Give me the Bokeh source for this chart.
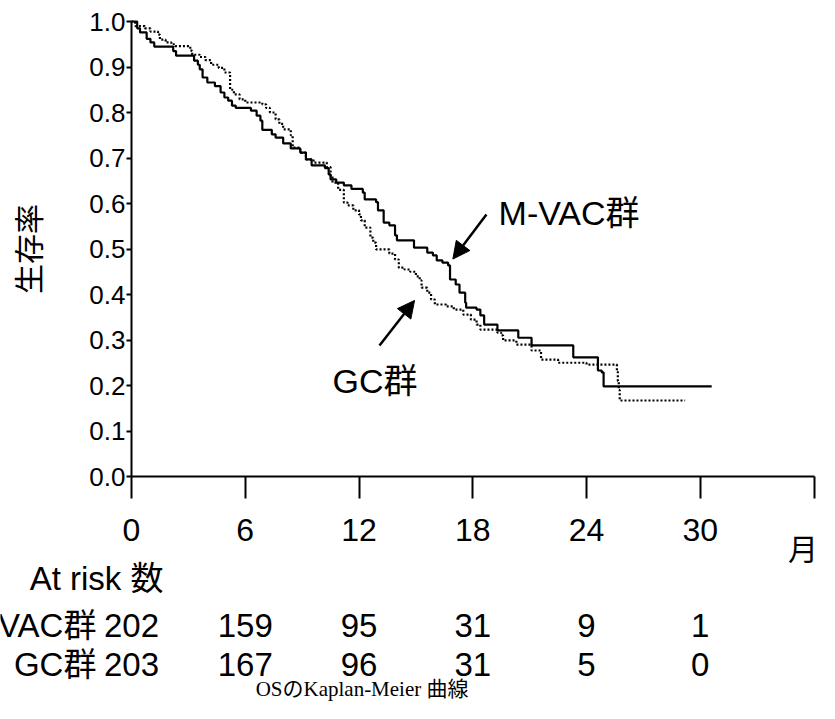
from bokeh.plotting import figure
from bokeh.models import (Range1d, FixedTicker, Label, LabelSet, ColumnDataSource,
                          Arrow, NormalHead, PrintfTickFormatter)
from bokeh.core.properties import value
from bokeh.embed import file_html
from bokeh.resources import INLINE

# ---- data ----
mvac_t = [0, 0.3, 0.45, 0.8, 1.0, 1.2, 2.2, 2.35, 3.3, 3.5, 3.6, 3.75, 4.0, 4.4, 4.7, 4.9,
          5.1, 5.3, 5.5, 6.3, 6.6, 6.8, 6.9, 7.4, 7.6, 8.0, 8.4, 8.9, 9.2, 9.5, 10.2, 10.4,
          10.5, 10.8, 11.2, 11.6, 12.2, 12.3, 12.9, 13.0, 13.3, 13.6, 13.9, 14.0, 14.9,
          15.6, 15.9, 16.1, 16.4, 16.7, 16.8, 17.1, 17.3, 17.6, 17.65, 18.2, 18.4, 18.6,
          19.3, 20.4, 21.1, 23.3, 24.6, 24.8, 24.9, 30.6]
mvac_s = [1.0, 0.985, 0.976, 0.962, 0.954, 0.945, 0.935, 0.925, 0.914, 0.905, 0.895, 0.877,
          0.866, 0.858, 0.844, 0.833, 0.826, 0.815, 0.810, 0.804, 0.793, 0.782, 0.762, 0.752,
          0.745, 0.732, 0.721, 0.712, 0.697, 0.684, 0.678, 0.664, 0.653, 0.646, 0.640, 0.632,
          0.624, 0.609, 0.603, 0.585, 0.558, 0.552, 0.530, 0.519, 0.503, 0.492, 0.486, 0.475,
          0.470, 0.464, 0.433, 0.422, 0.404, 0.382, 0.371, 0.367, 0.354, 0.334, 0.321, 0.305,
          0.288, 0.262, 0.233, 0.229, 0.198, 0.198]

gc_t = [0, 0.2, 0.7, 1.0, 1.4, 1.5, 1.8, 2.1, 2.3, 3.1, 3.2, 3.6, 3.9, 4.2, 4.6, 4.9, 5.2,
        5.4, 5.7, 6.0, 6.9, 7.1, 7.3, 7.6, 7.8, 8.0, 8.4, 8.5, 8.9, 9.2, 9.6, 10.3, 10.5,
        10.6, 10.9, 11.2, 11.4, 11.7, 12.0, 12.1, 12.3, 12.6, 12.75, 12.9, 13.6, 13.9, 14.1,
        14.4, 14.7, 15.0, 15.2, 15.3, 15.6, 15.8, 16.0, 16.6, 17.0, 17.5, 17.9, 18.2, 18.4,
        19.3, 19.5, 19.6, 20.3, 21.1, 21.6, 22.5, 24.0, 25.6, 25.65, 25.7, 25.75, 29.2]
gc_s = [1.0, 0.99, 0.985, 0.978, 0.971, 0.960, 0.954, 0.950, 0.946, 0.936, 0.927, 0.922,
        0.915, 0.905, 0.898, 0.888, 0.850, 0.840, 0.829, 0.822, 0.818, 0.810, 0.800, 0.785,
        0.775, 0.763, 0.750, 0.723, 0.712, 0.697, 0.690, 0.680, 0.660, 0.646, 0.630, 0.602,
        0.596, 0.585, 0.576, 0.563, 0.547, 0.525, 0.514, 0.499, 0.490, 0.477, 0.459, 0.455,
        0.450, 0.440, 0.431, 0.415, 0.404, 0.389, 0.378, 0.374, 0.367, 0.356, 0.345, 0.334,
        0.323, 0.316, 0.310, 0.299, 0.290, 0.277, 0.257, 0.250, 0.246, 0.230, 0.210, 0.190,
        0.167, 0.167]

risk_months = [0, 6, 12, 18, 24, 30]
mvac_risk = [202, 159, 95, 31, 9, 1]
gc_risk = [203, 167, 96, 31, 5, 0]
group_names = ["M-VAC群", "GC群"]
x_ticks = [0, 6, 12, 18, 24, 30, 36]
y_ticks = [0.0, 0.1, 0.2, 0.3, 0.4, 0.5, 0.6, 0.7, 0.8, 0.9, 1.0]

SANS = "'Liberation Sans', 'Noto Sans CJK JP', sans-serif"
SERIF = "'Liberation Serif', 'Noto Sans CJK JP', serif"

# The frame covers the whole canvas; the axes sit at x=0 / y=0 inside it so that
# the at-risk table and caption below the axis are not clipped.
p = figure(width=819, height=703, output_backend="svg", toolbar_location=None,
           x_range=Range1d(-6.909, 36.287), y_range=Range1d(-0.4989, 1.0462),
           min_border_left=0, min_border_right=0, min_border_top=0,
           min_border_bottom=0)
p.outline_line_color = None
p.grid.visible = False
p.background_fill_color = "white"
p.border_fill_color = "white"

p.step(mvac_t, mvac_s, mode="after", line_color="black", line_width=2.2)
p.step(gc_t, gc_s, mode="after", line_color="black", line_width=2.2, line_dash="2 2")

# x axis
xa = p.xaxis[0]
xa.fixed_location = 0
xa.ticker = FixedTicker(ticks=x_ticks, minor_ticks=[])
xa.bounds = (0, 36)
xa.major_tick_out = 22
xa.major_tick_in = 0
xa.major_tick_line_width = 2
xa.axis_line_width = 2
xa.major_label_overrides = {36: ""}
xa.major_label_text_font = SANS
xa.major_label_text_font_size = "32px"
xa.major_label_text_color = "black"
xa.major_label_standoff = 20

# y axis
ya = p.yaxis[0]
ya.fixed_location = 0
ya.ticker = FixedTicker(ticks=y_ticks, minor_ticks=[])
ya.bounds = (0, 1)
ya.formatter = PrintfTickFormatter(format="%.1f")
ya.major_tick_out = 5
ya.major_tick_in = 0
ya.major_tick_line_width = 2
ya.axis_line_width = 2
ya.major_label_text_font = SANS
ya.major_label_text_font_size = "26px"
ya.major_label_text_color = "black"
ya.major_label_standoff = 1
ya.axis_label = "生存率"
ya.axis_label_text_font = SANS
ya.axis_label_text_font_style = "normal"
ya.axis_label_text_font_size = "30px"
ya.axis_label_text_color = "black"
ya.axis_label_standoff = 40

# annotations on the curves
p.add_layout(Label(x=19.36, y=0.580, text=group_names[0], text_font=SANS,
                   text_font_size="34px", text_baseline="middle", text_color="black"))
p.add_layout(Label(x=10.6, y=0.211, text=group_names[1], text_font=SANS,
                   text_font_size="34px", text_baseline="middle", text_color="black"))
p.add_layout(Arrow(end=NormalHead(size=17, fill_color="black", line_color="black"),
                   x_start=18.72, y_start=0.576, x_end=16.95, y_end=0.478,
                   line_width=2.5, line_color="black"))
p.add_layout(Arrow(end=NormalHead(size=17, fill_color="black", line_color="black"),
                   x_start=13.08, y_start=0.288, x_end=14.93, y_end=0.387,
                   line_width=2.5, line_color="black"))

# unit label at the end of the x axis
p.add_layout(Label(x=36, y=-0.160, x_offset=-11, text="月", text_font=SANS,
                   text_font_size="30px", text_align="center", text_baseline="middle",
                   text_color="black"))

# at-risk table
p.add_layout(Label(x=1.69, y=-0.224, text="At risk 数", text_font=SANS,
                   text_font_size="33px", text_align="right", text_baseline="middle",
                   text_color="black"))
for name, counts, yrow in [(group_names[0], mvac_risk, -0.327),
                           (group_names[1], gc_risk, -0.413)]:
    p.add_layout(Label(x=-1.85, y=yrow, text=name, text_font=SANS, text_font_size="33px",
                       text_align="right", text_baseline="middle", text_color="black"))
    src = ColumnDataSource(dict(x=risk_months, t=[str(c) for c in counts]))
    p.add_layout(LabelSet(x="x", y=yrow, text="t", source=src, text_font=value(SANS),
                          text_font_size="33px", text_align="center",
                          text_baseline="middle", text_color="black"))

# caption
p.add_layout(Label(x=12.3, y=-0.468, text="OSのKaplan-Meier  曲線", text_font=SERIF,
                   text_font_size="21px", text_align="center", text_baseline="middle",
                   text_color="black"))

open("out.html", "w").write(file_html(p, INLINE))
